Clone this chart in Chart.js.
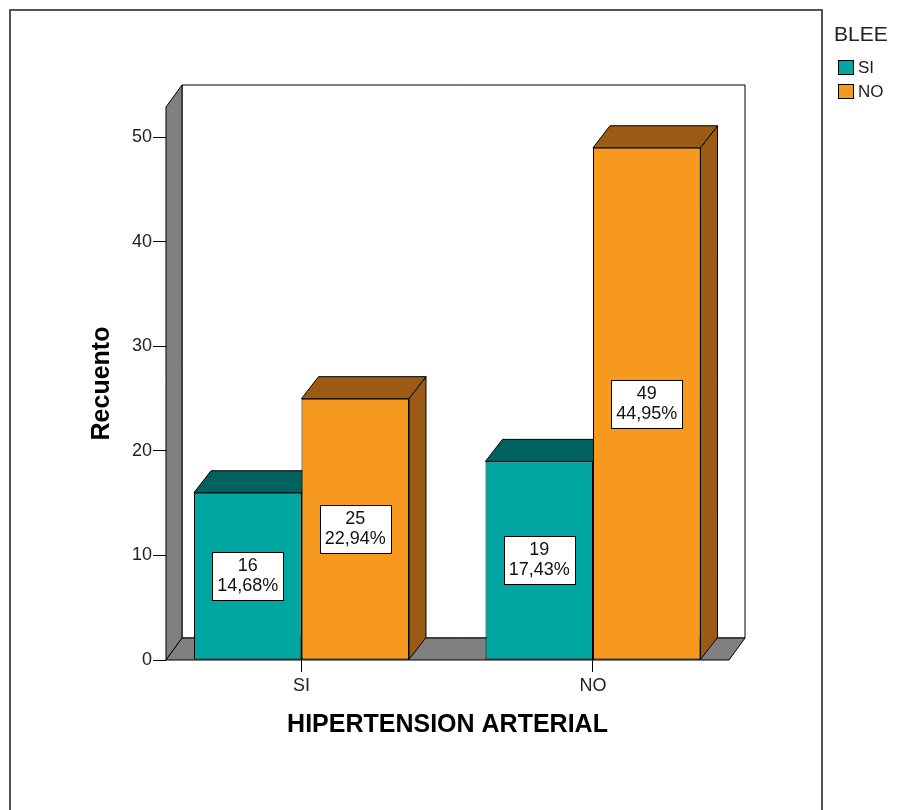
<!DOCTYPE html>
<html lang="es">
<head>
<meta charset="UTF-8">
<title>Hipertension arterial - BLEE</title>
<script src="https://cdn.jsdelivr.net/npm/chart.js"></script>
<style>
  body { margin: 0; background: #fff; }
  canvas { display: block; }
</style>
</head>
<body>
<canvas id="bleeChart" width="897" height="810"></canvas>

<script>
// HIPERTENSION ARTERIAL groups, split by BLEE
const categories = ['SI', 'NO'];
const bleeSi = [16, 19];
const bleeNo = [25, 49];
const yTicks = [0, 10, 20, 30, 40, 50];
const yMax = 52.9;

const total = bleeSi.concat(bleeNo).reduce((s, v) => s + v, 0);

const FONT = "'Liberation Sans', Arial, sans-serif";
const WALL_DX = 16, BAR_DX = 17, DEPTH_DY = -22;

const colors = {
  si:   { front: '#00a6a2', shade: '#00625f' },
  no:   { front: '#f7991e', shade: '#9c5b14' },
  wall: '#808080'
};

function poly(ctx, pts, fill) {
  ctx.beginPath();
  ctx.moveTo(pts[0][0], pts[0][1]);
  for (let i = 1; i < pts.length; i++) ctx.lineTo(pts[i][0], pts[i][1]);
  ctx.closePath();
  ctx.fillStyle = fill;
  ctx.fill();
  ctx.stroke();
}

// walls, floor, bar depth faces, value boxes and the legend
const box3d = {
  id: 'box3d',
  beforeDraw(chart) {
    const ctx = chart.ctx;
    ctx.save();
    ctx.fillStyle = '#fff';
    ctx.fillRect(0, 0, chart.width, chart.height);
    ctx.strokeStyle = '#555';
    ctx.lineWidth = 2;
    ctx.strokeRect(10, 10, 812, 830);
    ctx.restore();
  },
  beforeDatasetsDraw(chart) {
    const { ctx, chartArea: a } = chart;
    const L = a.left, R = a.right, T = a.top, B = a.bottom;
    ctx.save();
    ctx.strokeStyle = '#000';
    ctx.lineWidth = 1;
    // back wall
    poly(ctx, [[L + WALL_DX, T + DEPTH_DY], [R + WALL_DX, T + DEPTH_DY],
               [R + WALL_DX, B + DEPTH_DY], [L + WALL_DX, B + DEPTH_DY]], '#fff');
    // side wall
    poly(ctx, [[L, T], [L + WALL_DX, T + DEPTH_DY], [L + WALL_DX, B + DEPTH_DY], [L, B]], colors.wall);
    // floor
    poly(ctx, [[L, B], [R, B], [R + WALL_DX, B + DEPTH_DY], [L + WALL_DX, B + DEPTH_DY]], colors.wall);

    // depth faces of every bar, left to right; the front faces are drawn
    // by Chart.js afterwards and hide whatever lies behind them
    chart.data.datasets.forEach((ds, di) => {
      chart.getDatasetMeta(di).data.forEach(bar => {
        const { x, y, base, width } = bar.getProps(['x', 'y', 'base', 'width'], true);
        const l = x - width / 2, r = x + width / 2;
        poly(ctx, [[r, y], [r + BAR_DX, y + DEPTH_DY], [r + BAR_DX, base + DEPTH_DY], [r, base]], ds.shadeColor);
        poly(ctx, [[l, y], [l + BAR_DX, y + DEPTH_DY], [r + BAR_DX, y + DEPTH_DY], [r, y]], ds.shadeColor);
      });
    });
    ctx.restore();
  },
  afterDatasetsDraw(chart) {
    const ctx = chart.ctx;
    ctx.save();
    ctx.font = '18px ' + FONT;
    ctx.textAlign = 'center';
    ctx.textBaseline = 'middle';
    chart.data.datasets.forEach((ds, di) => {
      chart.getDatasetMeta(di).data.forEach((bar, i) => {
        const v = ds.data[i].y;
        const lines = [String(v), (v / total * 100).toFixed(2).replace('.', ',') + '%'];
        const { x, y, base } = bar.getProps(['x', 'y', 'base'], true);
        const cy = (y + base) / 2;
        const w = Math.max(...lines.map(t => ctx.measureText(t).width)) + 10;
        const h = 48;
        ctx.fillStyle = '#fff';
        ctx.fillRect(Math.round(x - w / 2) + 0.5, Math.round(cy - h / 2) + 0.5, Math.round(w), h);
        ctx.strokeStyle = '#000';
        ctx.lineWidth = 1;
        ctx.strokeRect(Math.round(x - w / 2) + 0.5, Math.round(cy - h / 2) + 0.5, Math.round(w), h);
        ctx.fillStyle = '#111';
        ctx.fillText(lines[0], x, cy - 10);
        ctx.fillText(lines[1], x, cy + 10);
      });
    });
    ctx.restore();
  },
  afterDraw(chart) {
    const ctx = chart.ctx;
    ctx.save();
    ctx.textBaseline = 'middle';
    ctx.textAlign = 'left';
    ctx.fillStyle = '#222';
    ctx.font = '21px ' + FONT;
    ctx.fillText('BLEE', 834, 35);
    ctx.font = '17px ' + FONT;
    chart.data.datasets.forEach((ds, i) => {
      const top = 60 + i * 24;
      ctx.fillStyle = ds.backgroundColor;
      ctx.fillRect(838.5, top + 0.5, 15, 14);
      ctx.strokeStyle = '#000';
      ctx.lineWidth = 1;
      ctx.strokeRect(838.5, top + 0.5, 15, 14);
      ctx.fillStyle = '#222';
      ctx.fillText(ds.label, 858, top + 8);
    });
    ctx.restore();
  }
};

const ctx = document.getElementById('bleeChart').getContext('2d');
const chart = new Chart(ctx, {
  type: 'bar',
  data: {
    datasets: [{
      label: 'SI',
      data: bleeSi.map((v, i) => ({ x: i, y: v })),
      backgroundColor: colors.si.front,
      shadeColor: colors.si.shade
    }, {
      label: 'NO',
      data: bleeNo.map((v, i) => ({ x: i, y: v })),
      backgroundColor: colors.no.front,
      shadeColor: colors.no.shade
    }]
  },
  options: {
    responsive: false,
    animation: false,
    devicePixelRatio: 1,
    layout: { padding: { left: 0, top: 107, right: 168, bottom: 0 } },
    datasets: {
      bar: {
        borderColor: '#000',
        borderWidth: 1,
        borderSkipped: false,
        categoryPercentage: 0.7376,
        barPercentage: 1
      }
    },
    plugins: {
      legend: { display: false },
      tooltip: { enabled: false }
    },
    scales: {
      x: {
        type: 'linear',
        offset: false,
        min: -0.4648,
        max: 1.4666,
        afterBuildTicks: s => { s.ticks = categories.map((c, i) => ({ value: i })); },
        afterFit: s => { s.height = 150; },
        ticks: {
          callback: v => categories[v],
          font: { family: FONT, size: 18 },
          color: '#222',
          padding: 3,
          maxRotation: 0
        },
        grid: { offset: false, drawOnChartArea: false, tickLength: 12, color: '#000' },
        border: { display: false },
        title: {
          display: true,
          text: 'HIPERTENSION ARTERIAL',
          font: { family: FONT, size: 25, weight: 'bold' },
          color: '#000',
          padding: { top: 0, bottom: 70 }
        }
      },
      y: {
        min: 0,
        max: yMax,
        afterBuildTicks: s => { s.ticks = yTicks.map(v => ({ value: v })); },
        afterFit: s => { s.width = 166; },
        ticks: {
          font: { family: FONT, size: 18 },
          color: '#222',
          padding: 1
        },
        grid: { drawOnChartArea: false, tickLength: 13, color: '#000' },
        border: { display: false },
        title: {
          display: true,
          text: 'Recuento',
          font: { family: FONT, size: 25, weight: 'bold' },
          color: '#000',
          padding: { top: 87, bottom: 0 }
        }
      }
    }
  },
  plugins: [box3d]
});
</script>
</body>
</html>
